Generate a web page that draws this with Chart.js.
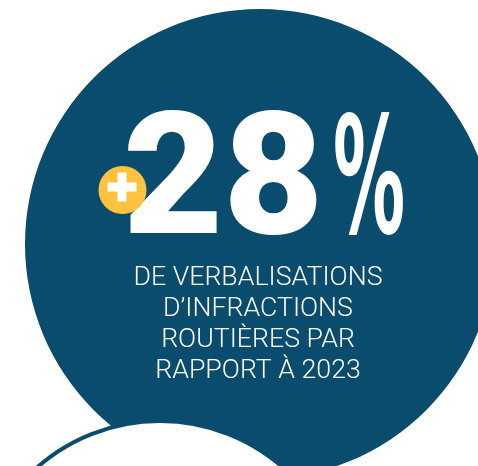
<!DOCTYPE html>
<html lang="fr">
<head>
<meta charset="utf-8">
<title>+28% de verbalisations</title>
<script src="https://cdn.jsdelivr.net/npm/chart.js@4"></script>
<style>
  html, body { margin: 0; padding: 0; background: #fff; overflow: hidden; }
  #wrap { position: absolute; left: 0; top: 0; width: 520px; height: 490px; }
</style>
</head>
<body>
<div id="wrap"><canvas id="chart"></canvas></div>
<script>
'use strict';

// data
var labels = ['Hausse des verbalisations d’infractions routières'];
var values = [28];
var sign = '+';
var unit = '%';
var captionLines = ['DE VERBALISATIONS', 'D’INFRACTIONS', 'ROUTIÈRES PAR', 'RAPPORT À 2023'];

var BLUE = '#0a4c6d';
var YELLOW = '#fec23e';

// draws a string so that its ink box fits the given box
var fitText = function(ctx, text, font, left, baseline, width, height){
  ctx.save();
  ctx.font = font;
  var m = ctx.measureText(text);
  var w = m.actualBoundingBoxLeft + m.actualBoundingBoxRight;
  var h = m.actualBoundingBoxAscent;
  ctx.translate(left, baseline);
  ctx.scale(width / w, height / h);
  ctx.textBaseline = 'alphabetic';
  ctx.textAlign = 'left';
  ctx.fillText(text, m.actualBoundingBoxLeft, 0);
  ctx.restore();
};

var decor = {
  id: 'decor',
  afterDatasetsDraw: function(chart){
    var ctx = chart.ctx;
    var arc = chart.getDatasetMeta(0).data[0];
    var cx = arc.x, cy = arc.y;

    // next bubble peeking at the bottom
    ctx.save();
    ctx.beginPath();
    ctx.arc(cx - 100, cy + 363, 186, 0, Math.PI * 2);
    ctx.fillStyle = '#fff';
    ctx.fill();
    ctx.lineWidth = 4;
    ctx.strokeStyle = BLUE;
    ctx.stroke();
    ctx.restore();

    // big number
    ctx.fillStyle = '#fff';
    fitText(ctx, String(values[0]), '900 170px Roboto', cx - 133, cy - 11, 190, 123);
    fitText(ctx, unit, '700 120px "DejaVu Sans Condensed", "DejaVu Sans"', cx + 75, cy - 11, 68, 121);

    // plus badge
    ctx.save();
    ctx.beginPath();
    ctx.arc(cx - 137.5, cy - 54, 24, 0, Math.PI * 2);
    ctx.fillStyle = YELLOW;
    ctx.fill();
    ctx.fillStyle = '#fff';
    ctx.fillRect(cx - 152.5, cy - 61.5, 29, 9);
    ctx.fillRect(cx - 142.5, cy - 71.5, 9, 29);
    ctx.restore();

    // caption
    ctx.save();
    ctx.fillStyle = '#fff';
    ctx.font = '300 25px Roboto';
    ctx.textAlign = 'center';
    ctx.textBaseline = 'alphabetic';
    var first = ctx.measureText(captionLines[0]).width;
    var sx = 249 / first;
    captionLines.forEach(function(line, i){
      ctx.save();
      ctx.translate(cx - 2, cy + 41 + i * 31);
      ctx.scale(sx, 1);
      ctx.fillText(line, 0, 0);
      ctx.restore();
    });
    ctx.restore();
  }
};

new Chart(document.getElementById('chart'), {
  type: 'pie',
  data: {
    labels: labels,
    datasets: [{
      data: values,
      backgroundColor: [BLUE],
      borderWidth: 0
    }]
  },
  options: {
    responsive: true,
    maintainAspectRatio: false,
    animation: false,
    layout: { padding: { left: 25, top: 9, right: 25, bottom: 11 } },
    plugins: {
      legend: { display: false },
      tooltip: { enabled: false }
    }
  },
  plugins: [decor]
});
</script>
</body>
</html>
